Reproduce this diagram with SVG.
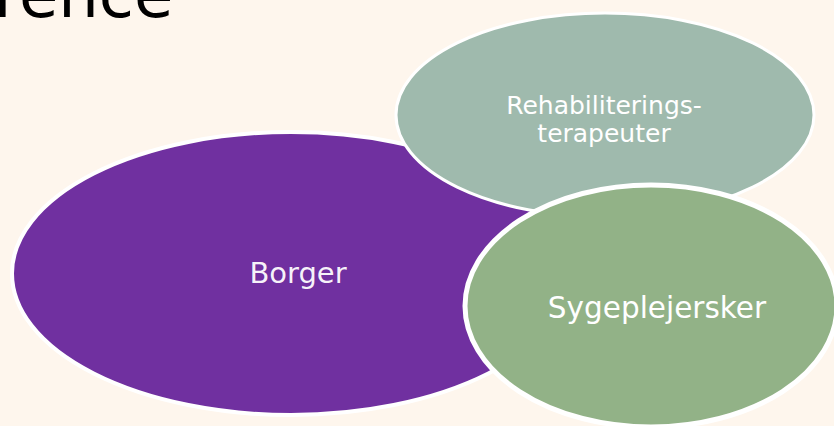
<svg xmlns="http://www.w3.org/2000/svg" width="834" height="426" viewBox="0 0 834 426">
  <style>
    .bg { fill: #fef6ed; }
    .node { stroke: #ffffff; }
    .lbl { font-family: "DejaVu Sans", Verdana, sans-serif; fill: #ffffff; text-anchor: middle; }
  </style>
  <rect class="bg" x="0" y="0" width="834" height="426"/>
  <text x="-6" y="17" font-family="DejaVu Sans, sans-serif" font-size="64" fill="#000000">rence</text>
  <g id="connectors"></g>
  <g id="borger">
    <ellipse class="node" cx="291" cy="273.5" rx="279" ry="141.5" fill="#7030a0" stroke-width="4"/>
    <text class="lbl" x="298" y="283" font-size="29" fill-opacity="0.95">Borger</text>
  </g>
  <g id="rehab">
    <ellipse class="node" cx="605" cy="115" rx="209" ry="102" fill="#9fbaad" stroke-width="3"/>
    <text class="lbl" x="604" y="114" font-size="25" fill="#f0f4f0">Rehabiliterings-</text>
    <text class="lbl" x="604" y="142" font-size="25" fill="#f0f4f0">terapeuter</text>
  </g>
  <g id="sygeplejersker">
    <ellipse class="node" cx="651" cy="306" rx="186" ry="121" fill="#92b287" stroke-width="5"/>
    <text class="lbl" x="657" y="318" font-size="29.5">Sygeplejersker</text>
  </g>
</svg>
